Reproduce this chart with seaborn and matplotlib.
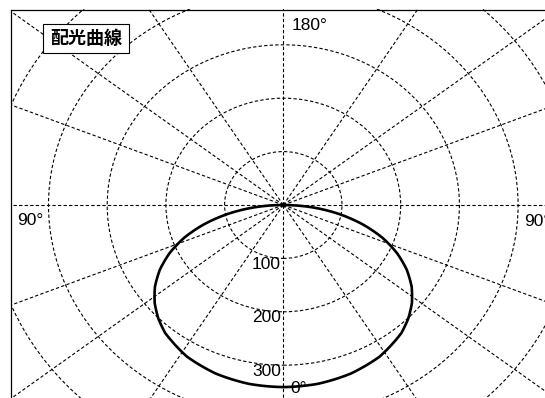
import numpy as np
import pandas as pd
import matplotlib
matplotlib.use("Agg")
import matplotlib.pyplot as plt
import seaborn as sns
from matplotlib.patches import Rectangle
from matplotlib.lines import Line2D

# Luminous intensity (cd) against angle from the downward axis (degrees);
# the distribution is symmetric about 0°.
angles_deg = [0, 10, 20, 30, 40, 45, 50, 55, 60, 65, 70, 75, 80, 85, 90]
intensity = [341, 340, 336, 328, 313, 301, 286, 267, 243, 214, 180, 140, 96, 49, 0]

ring_values = [100, 200, 300, 400, 500]
ring_labels = ["100", "200", "300"]
spoke_angles = [0, 32, 52, 68, 90, 112, 128, 148, 180,
                212, 232, 248, 270, 292, 308, 328]
title_text = "配光曲線"

W, H = 545, 398
fig = plt.figure(figsize=(W / 100, H / 100), dpi=100)
fig.patch.set_facecolor("white")

def fx(px):
    return px / W

def fy(py):
    return 1 - py / H

# Polar axes: centre of the diagram and stretch (pixels per candela)
cx, cy = 283.3, 205.0
rmax = 600
sx, sy = 0.587, 0.534
ax = fig.add_axes([fx(cx - rmax * sx), fy(cy + rmax * sy),
                   2 * rmax * sx / W, 2 * rmax * sy / H], projection="polar")
ax.set_aspect("auto")
ax.set_theta_zero_location("S")
ax.patch.set_facecolor("white")

half = np.deg2rad(angles_deg)
theta = np.concatenate([-half[::-1], half[1:]])
r = np.concatenate([np.array(intensity)[::-1], np.array(intensity)[1:]])
df = pd.DataFrame({"theta": theta, "r": r})
sns.lineplot(data=df, x="theta", y="r", ax=ax, sort=False, color="black",
             linewidth=1.9, zorder=3)
# follow the polar arcs between readings instead of straight chords
curve = ax.lines[-1]
curve.get_path()._interpolation_steps = 12
ax.set_xlabel("")
ax.set_ylabel("")

ax.set_rlim(0, rmax)
ax.set_rgrids(ring_values, labels=[""] * len(ring_values))
ax.set_thetagrids(spoke_angles, labels=[""] * len(spoke_angles))
ax.grid(True, color="black", linestyle=(0, (3, 2)), linewidth=0.8)
ax.spines["polar"].set_visible(False)

font = "Liberation Sans"
fs = 12.5

# Intensity labels along the 0° axis
for lab in ring_labels:
    ax.annotate(lab, xy=(0, float(lab)), xytext=(-1.7, -7.5),
                textcoords="offset points", ha="right", va="baseline",
                fontsize=fs, family=font, color="black", zorder=4)

# Angle labels
fig.text(fx(291.5), fy(30), "180°", ha="left", va="baseline",
         fontsize=fs, family=font)
fig.text(fx(16.7), fy(225), "90°", ha="left", va="baseline",
         fontsize=fs, family=font)
fig.text(fx(524), fy(226.5), "90°", ha="left", va="baseline",
         fontsize=fs, family=font)
fig.text(fx(290.7), fy(393), "0°", ha="left", va="baseline",
         fontsize=fs, family=font, zorder=6)

# Frame around the diagram
fig.add_artist(Rectangle((0, 0), fx(10.5), 1, transform=fig.transFigure,
                         fc="white", ec="none", zorder=10))
fig.add_artist(Rectangle((0, fy(9.0)), 1, 9.0 / H, transform=fig.transFigure,
                         fc="white", ec="none", zorder=10))
fig.add_artist(Line2D([fx(11), fx(11)], [0, fy(9.5)], transform=fig.transFigure,
                      color="black", linewidth=0.9, zorder=11))
fig.add_artist(Line2D([fx(11), 1], [fy(9.5), fy(9.5)], transform=fig.transFigure,
                      color="black", linewidth=0.9, zorder=11))

# Title box
fig.add_artist(Rectangle((fx(43.3), fy(53.3)), 86 / W, 29.3 / H,
                         transform=fig.transFigure, fc="white", ec="black",
                         linewidth=0.8, zorder=12))
fig.text(fx(86.3), fy(38.7), title_text, ha="center", va="center",
         fontsize=13, family=["Noto Sans CJK JP", "DejaVu Sans"],
         weight="bold", zorder=13)

fig.savefig("out.png", dpi=100, facecolor="white")
